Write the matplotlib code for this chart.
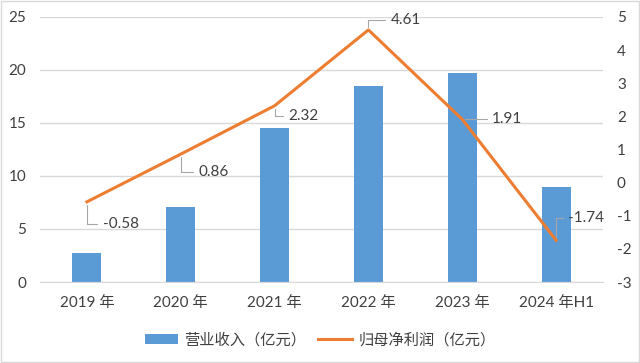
import matplotlib.pyplot as plt
import numpy as np

plt.rcParams['font.family'] = ['Lato', 'Noto Sans CJK SC', 'DejaVu Sans']
plt.rcParams['axes.unicode_minus'] = False

years = ["2019 年", "2020 年", "2021 年", "2022 年", "2023 年", "2024 年H1"]
revenue = [2.7, 7.1, 14.5, 18.5, 19.7, 9.0]
net_profit = [-0.58, 0.86, 2.32, 4.61, 1.91, -1.74]
# label offsets in pixels (dx, dy) for each data label
label_offsets = [(16, -22), (18, -18), (14, -10), (22, 10), (30, 0), (12, 22)]

text_color = "#404040"
bar_color = "#5B9BD5"
line_color = "#ED7D31"

fig = plt.figure(figsize=(6.4, 3.63), dpi=100)
ax = fig.add_axes([40 / 640, 1 - 282 / 363, 563 / 640, 265 / 363])
x = np.arange(len(years))

bars = ax.bar(x, revenue, width=0.31, color=bar_color, label="营业收入（亿元）", zorder=2)
ax.set_ylim(0, 25)
ax.set_yticks(range(0, 26, 5))
ax.set_xlim(-0.5, len(years) - 0.5)
ax.set_xticks(x)
ax.set_xticklabels(years)
ax.grid(axis="y", color="#D9D9D9", linewidth=1, zorder=0)
for s in ["top", "right", "left"]:
    ax.spines[s].set_visible(False)
ax.spines["bottom"].set_color("#D9D9D9")
ax.tick_params(axis="both", length=0, colors=text_color, labelsize=11)
ax.tick_params(axis="x", pad=10)
ax.tick_params(axis="y", pad=10)

ax2 = ax.twinx()
line, = ax2.plot(x, net_profit, color=line_color, linewidth=2.2, label="归母净利润（亿元）", zorder=3)
ax2.set_ylim(-3, 5)
ax2.set_yticks(range(-3, 6))
for s in ax2.spines.values():
    s.set_visible(False)
ax2.tick_params(axis="y", length=0, colors=text_color, labelsize=11, pad=10)

for xi, v, (dx, dy) in zip(x, net_profit, label_offsets):
    ax2.annotate(f"{v:.2f}", xy=(xi, v), xytext=(dx, dy), textcoords="offset pixels",
                 ha="left", va="center", fontsize=11, color=text_color,
                 arrowprops=dict(arrowstyle="-", color="#A6A6A6", lw=0.8,
                                 shrinkA=2, shrinkB=2,
                                 connectionstyle="angle,angleA=0,angleB=90,rad=0"))

fig.legend([bars, line], ["营业收入（亿元）", "归母净利润（亿元）"], loc="center",
           bbox_to_anchor=(0.5, 1 - 340 / 363), ncol=2, frameon=False,
           fontsize=11, labelcolor=text_color, handlelength=2.2,
           columnspacing=0.8, handletextpad=0.4)

fig.patches.append(plt.Rectangle((0.002, 0.003), 0.996, 0.994, transform=fig.transFigure,
                                 fill=False, edgecolor="#D9D9D9", linewidth=1))

fig.savefig("out.png", dpi=100)
